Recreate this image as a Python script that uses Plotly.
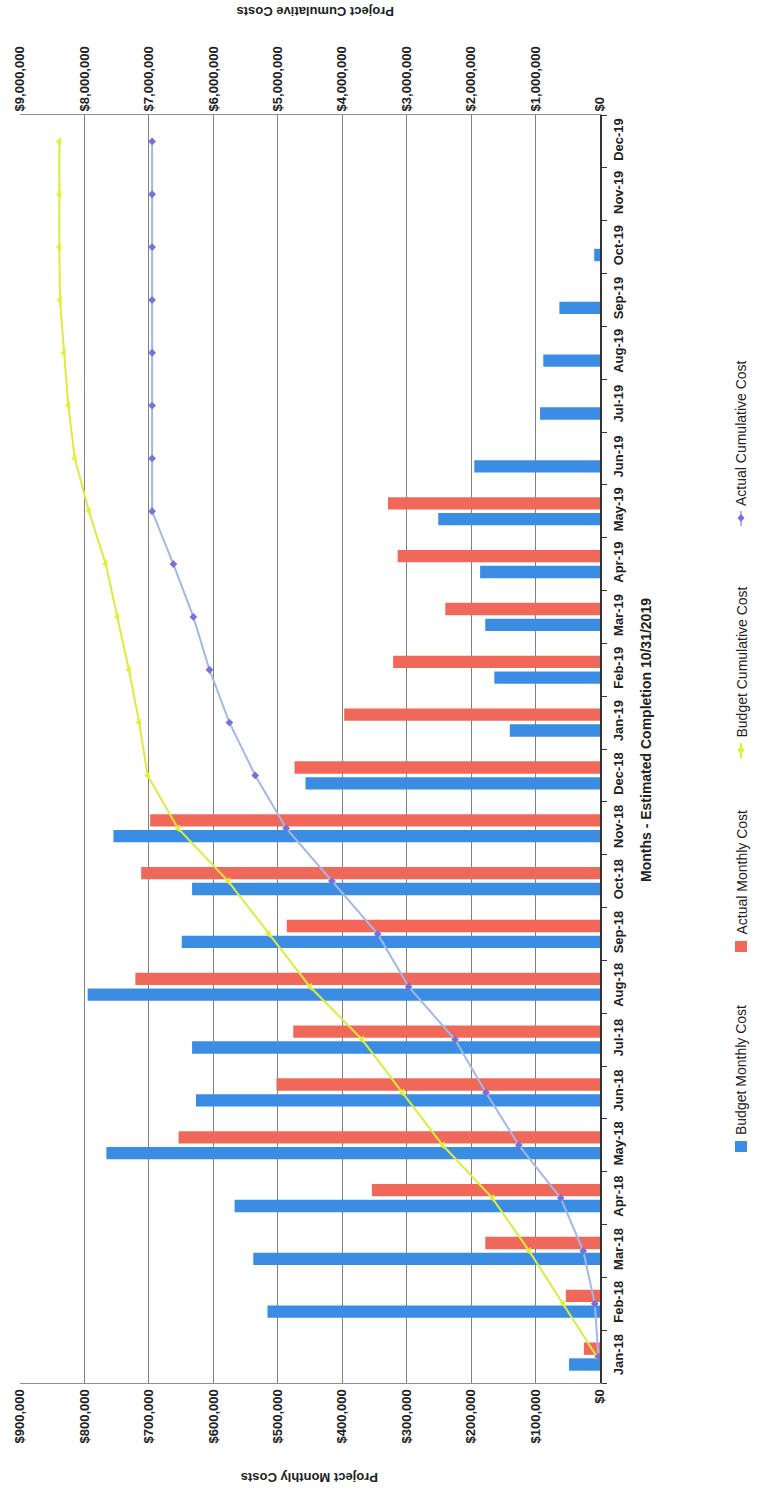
import plotly.graph_objects as go

months = ["Jan-18", "Feb-18", "Mar-18", "Apr-18", "May-18", "Jun-18", "Jul-18", "Aug-18",
          "Sep-18", "Oct-18", "Nov-18", "Dec-18", "Jan-19", "Feb-19", "Mar-19", "Apr-19",
          "May-19", "Jun-19", "Jul-19", "Aug-19", "Sep-19", "Oct-19", "Nov-19", "Dec-19"]

budget_monthly = [48000, 516000, 538000, 567000, 766000, 627000, 633000, 795000,
                  649000, 633000, 755000, 457000, 140000, 164000, 178000, 186000,
                  251000, 195000, 93000, 88000, 63000, 9000, None, None]
actual_monthly = [25000, 53000, 178000, 354000, 654000, 502000, 476000, 721000,
                  486000, 712000, 698000, 474000, 397000, 321000, 240000, 314000,
                  329000, None, None, None, None, None, None, None]
budget_cumulative = [50000, 570000, 1100000, 1670000, 2440000, 3070000, 3690000, 4500000,
                     5140000, 5770000, 6550000, 7020000, 7150000, 7310000, 7490000, 7670000,
                     7930000, 8150000, 8250000, 8320000, 8380000, 8390000, 8390000, 8390000]
actual_cumulative = [25000, 80000, 260000, 610000, 1260000, 1770000, 2250000, 2970000,
                     3450000, 4160000, 4870000, 5350000, 5750000, 6060000, 6310000, 6620000,
                     6950000, 6950000, 6950000, 6950000, 6950000, 6950000, 6950000, 6950000]

monthly_ticks = [0, 100000, 200000, 300000, 400000, 500000, 600000, 700000, 800000, 900000]
monthly_labels = ["$0", "$100,000", "$200,000", "$300,000", "$400,000", "$500,000",
                  "$600,000", "$700,000", "$800,000", "$900,000"]
cum_ticks = [0, 1000000, 2000000, 3000000, 4000000, 5000000, 6000000, 7000000, 8000000, 9000000]
cum_labels = ["$0", "$1,000,000", "$2,000,000", "$3,000,000", "$4,000,000", "$5,000,000",
              "$6,000,000", "$7,000,000", "$8,000,000", "$9,000,000"]

series_names = ["Budget Monthly Cost", "Actual Monthly Cost", "Budget Cumulative Cost",
                "Actual Cumulative Cost"]

BLUE = "#3a8de2"
RED = "#f0685a"
YEL = "#dcec3c"
YEL_M = "#e4f02c"
LAV = "#a2b8ea"
PURP = "#7a70dc"
FONT = "Liberation Sans Narrow, Liberation Sans, Arial, sans-serif"

W, H = 761, 1490
PL, PR, PT, PB = 20, 600, 115, 1383


def px(x):
    return (x - PL) / (PR - PL)


def py(y):
    return (PB - y) / (PB - PT)


fig = go.Figure()
fig.add_trace(go.Bar(y=months, x=budget_monthly, orientation="h", name=series_names[0],
                     marker=dict(color=BLUE, line=dict(width=0)), xaxis="x", yaxis="y"))
fig.add_trace(go.Bar(y=months, x=actual_monthly, orientation="h", name=series_names[1],
                     marker=dict(color=RED, line=dict(width=0)), xaxis="x", yaxis="y"))
fig.add_trace(go.Scatter(y=months, x=budget_cumulative, mode="lines+markers", name=series_names[2],
                         line=dict(color=YEL, width=2),
                         marker=dict(symbol="triangle-left", size=7, color=YEL_M),
                         xaxis="x2", yaxis="y"))
fig.add_trace(go.Scatter(y=months, x=actual_cumulative, mode="lines+markers", name=series_names[3],
                         line=dict(color=LAV, width=2),
                         marker=dict(symbol="diamond", size=6, color=PURP),
                         xaxis="x2", yaxis="y"))

tick_font = dict(family=FONT, size=13, color="#222", weight="bold")

fig.update_layout(
    width=W, height=H,
    margin=dict(l=PL, r=W - PR, t=PT, b=H - PB, pad=0),
    paper_bgcolor="white", plot_bgcolor="white",
    barmode="group", bargap=0.4, bargroupgap=0.22,
    showlegend=False,
    font=dict(family=FONT, color="#222"),
    xaxis=dict(range=[900000, 0], tickvals=monthly_ticks, ticktext=monthly_labels,
               tickangle=-90, tickfont=tick_font, showgrid=True, gridcolor="#808080",
               gridwidth=1, zeroline=False, showline=True, linecolor="#909090",
               ticks="", side="bottom"),
    xaxis2=dict(range=[9000000, 0], tickvals=cum_ticks, ticktext=cum_labels,
                tickangle=-90, tickfont=tick_font, showgrid=False, zeroline=False,
                showline=True, linecolor="#909090", overlaying="x", side="top",
                anchor="y", ticks=""),
    yaxis=dict(type="category", categoryorder="array", categoryarray=months,
               range=[-0.5, 23.5], side="right", tickangle=-90, tickfont=tick_font,
               showline=True, linecolor="#333", linewidth=1.5, ticks="outside",
               tickson="boundaries", ticklen=5, tickcolor="#333", showgrid=False,
               ticklabelstandoff=6),
)

ann = []
ann.append(dict(text="<b>Months - Estimated Completion 10/31/2019</b>", x=px(646), y=py(740),
                xref="paper", yref="paper", textangle=-90, showarrow=False,
                font=dict(family=FONT, size=14, color="#222"), xanchor="center", yanchor="middle"))
ann.append(dict(text="<b>Project Monthly Costs</b>", x=px(310), y=py(1478),
                xref="paper", yref="paper", textangle=180, showarrow=False,
                font=dict(family=FONT, size=13, color="#222"), xanchor="center", yanchor="middle"))
ann.append(dict(text="<b>Project Cumulative Costs</b>", x=px(315), y=py(12),
                xref="paper", yref="paper", textangle=180, showarrow=False,
                font=dict(family=FONT, size=13, color="#222"), xanchor="center", yanchor="middle"))

# manual rotated legend
legend_items = [
    (series_names[0], 1137, "bar", BLUE, None),
    (series_names[1], 937, "bar", RED, None),
    (series_names[2], 740, "line", YEL, YEL_M),
    (series_names[3], 508, "line", LAV, PURP),
]
LX = 741
shapes = []
for name, ystart, kind, col, mcol in legend_items:
    ann.append(dict(text=name, x=px(LX), y=py(ystart), xref="paper", yref="paper",
                    textangle=-90, showarrow=False, xanchor="center", yanchor="bottom",
                    font=dict(family=FONT, size=14, color="#222")))
    if kind == "bar":
        shapes.append(dict(type="rect", xref="paper", yref="paper",
                           x0=px(LX - 6), x1=px(LX + 6), y0=py(ystart + 15), y1=py(ystart + 4),
                           fillcolor=col, line=dict(width=0)))
    else:
        shapes.append(dict(type="line", xref="paper", yref="paper",
                           x0=px(LX), x1=px(LX), y0=py(ystart + 18), y1=py(ystart + 3),
                           line=dict(color=col, width=2)))
        cy = ystart + 10
        path = (f"M {px(LX)},{py(cy - 4)} L {px(LX + 3.5)},{py(cy)} "
                f"L {px(LX)},{py(cy + 4)} L {px(LX - 3.5)},{py(cy)} Z")
        shapes.append(dict(type="path", xref="paper", yref="paper", path=path,
                           fillcolor=mcol, line=dict(width=0)))

fig.update_layout(annotations=ann, shapes=shapes)
fig.write_html("out.html")
